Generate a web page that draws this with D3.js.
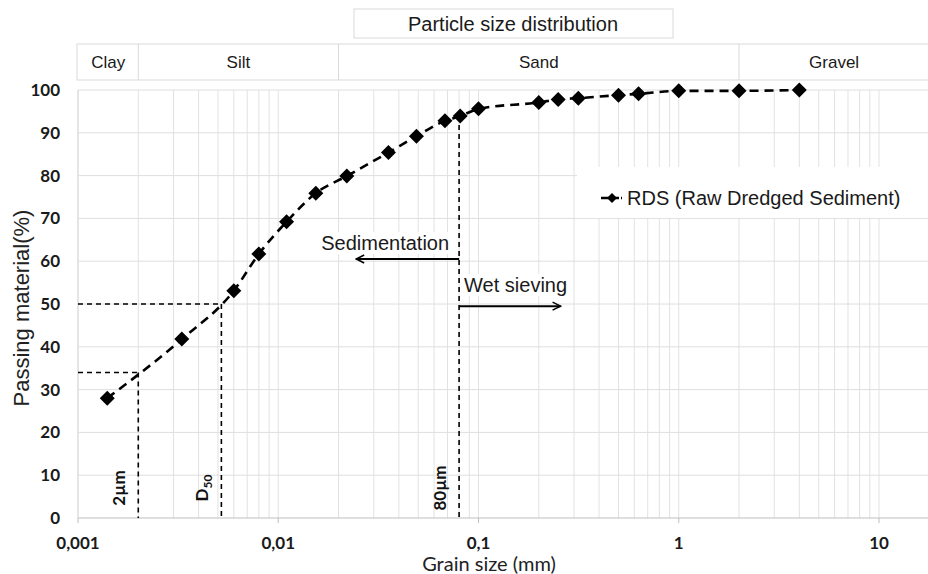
<!DOCTYPE html>
<html>
<head>
<meta charset="utf-8">
<script src="https://cdn.jsdelivr.net/npm/d3@7"></script>
<style>
  body { margin: 0; background: #fff; }
  svg { display: block; }
</style>
</head>
<body>
<script>
// data
const grainSize = [0.0014, 0.0033, 0.006, 0.008, 0.011, 0.0154, 0.022, 0.0355, 0.049, 0.068, 0.081, 0.1,
                   0.2, 0.25, 0.315, 0.5, 0.63, 1, 2, 4];
const passing = [28, 41.8, 53.1, 61.7, 69.2, 75.9, 79.9, 85.4, 89.2, 92.8, 93.9, 95.6,
                 97.1, 97.8, 98.1, 98.8, 99.1, 99.8, 99.8, 100];
const yTicks = [0, 10, 20, 30, 40, 50, 60, 70, 80, 90, 100];
const xTicks = [0.001, 0.01, 0.1, 1, 10];
const xTickLabels = ["0,001", "0,01", "0,1", "1", "10"];
const zoneNames = ["Clay", "Silt", "Sand", "Gravel"];
const zoneBounds = [0.001, 0.002, 0.02, 2, 17.8];
const refSize = [0.002, 0.0052, 0.08];
const refPassing = [34, 50, 93.9];
const refLabels = ["2µm", "D50", "80µm"];

const W = 928, H = 574;
const svg = d3.select("body").append("svg").attr("width", W).attr("height", H);

const x = d3.scaleLog().domain([0.001, 10]).range([78, 879]);
const y = d3.scaleLinear().domain([0, 100]).range([518, 90]);
const plotRight = W;

const ARIAL = "'Liberation Sans', Arial, sans-serif";
const CALIBRI = "Lato, 'Open Sans', sans-serif";

// arrow head
svg.append("defs").append("marker")
    .attr("id", "arrow")
    .attr("viewBox", "0 0 10 10")
    .attr("refX", 9).attr("refY", 5)
    .attr("markerWidth", 5).attr("markerHeight", 5)
    .attr("orient", "auto")
  .append("path")
    .attr("d", "M1,1 L9,5 L1,9")
    .attr("fill", "none")
    .attr("stroke", "#000")
    .attr("stroke-width", 1.6);

// vertical grid
let vgrid = [];
for (let e = -3; e < 1; e++)
    for (let m = 1; m < 10; m++) vgrid.push(m * Math.pow(10, e));
vgrid.push(10);

svg.append("g").selectAll("line").data(vgrid).enter().append("line")
    .attr("x1", d => x(d)).attr("x2", d => x(d))
    .attr("y1", y(100)).attr("y2", y(0))
    .attr("stroke", "#e2e2e2").attr("stroke-width", 1);

svg.append("g").selectAll("line").data(yTicks).enter().append("line")
    .attr("x1", x(0.001)).attr("x2", plotRight)
    .attr("y1", d => y(d)).attr("y2", d => y(d))
    .attr("stroke", d => d == 0 ? "#bfbfbf" : "#dedede").attr("stroke-width", 1);

svg.append("line")
    .attr("x1", x(0.001)).attr("x2", x(0.001))
    .attr("y1", y(100)).attr("y2", y(0))
    .attr("stroke", "#d9d9d9");

// x ticks
svg.append("g").selectAll("line").data(xTicks).enter().append("line")
    .attr("x1", d => x(d)).attr("x2", d => x(d))
    .attr("y1", y(0)).attr("y2", y(0) + 5)
    .attr("stroke", "#bfbfbf");

svg.append("g").selectAll("text").data(xTicks).enter().append("text")
    .attr("x", d => x(d)).attr("y", y(0) + 31)
    .attr("text-anchor", "middle")
    .style("font-family", CALIBRI).style("font-weight", "bold").style("font-size", "17px")
    .attr("fill", "#1a1a1a")
    .text((d, i) => xTickLabels[i]);

svg.append("g").selectAll("text").data(yTicks).enter().append("text")
    .attr("x", 60).attr("y", d => y(d)).attr("dy", "0.35em")
    .attr("text-anchor", "end")
    .style("font-family", CALIBRI).style("font-weight", "bold").style("font-size", "17px")
    .attr("fill", "#1a1a1a")
    .text(d => d);

// axis titles
svg.append("text")
    .attr("x", (x(0.001) + plotRight) / 2 - 14).attr("y", 571)
    .attr("text-anchor", "middle")
    .style("font-family", CALIBRI).style("font-size", "20px")
    .attr("fill", "#222")
    .text("Grain size (mm)");

svg.append("text")
    .attr("transform", "translate(29," + 308 + ") rotate(-90)")
    .attr("text-anchor", "middle")
    .style("font-family", ARIAL).style("font-size", "22px")
    .attr("fill", "#222")
    .text("Passing material(%)");

// header: title box and soil zones
let title = svg.append("g");
title.append("rect")
    .attr("x", 354).attr("y", 9).attr("width", 319).attr("height", 29)
    .attr("fill", "#fff").attr("stroke", "#d9d9d9");
title.append("text")
    .attr("x", 513).attr("y", 24).attr("dy", "0.35em")
    .attr("text-anchor", "middle")
    .style("font-family", ARIAL).style("font-size", "20px")
    .attr("fill", "#1a1a1a")
    .text("Particle size distribution");

let zones = svg.append("g");
zones.append("rect")
    .attr("x", x(0.001) - 1).attr("y", 44)
    .attr("width", x(zoneBounds[4]) - x(0.001) + 1).attr("height", 36)
    .attr("fill", "#fff").attr("stroke", "#d9d9d9");
zones.selectAll("line").data(zoneBounds.slice(1, 4)).enter().append("line")
    .attr("x1", d => x(d)).attr("x2", d => x(d))
    .attr("y1", 44).attr("y2", 80)
    .attr("stroke", "#d9d9d9");
zones.selectAll("text").data(zoneNames).enter().append("text")
    .attr("x", (d, i) => (x(zoneBounds[i]) + x(zoneBounds[i + 1])) / 2)
    .attr("y", 62).attr("dy", "0.35em")
    .attr("text-anchor", "middle")
    .style("font-family", ARIAL).style("font-size", "17px")
    .attr("fill", "#1a1a1a")
    .text(d => d);

// reference dashed lines
let refs = svg.append("g")
    .attr("stroke", "#000").attr("stroke-width", 1.6)
    .attr("stroke-dasharray", "5,4").attr("fill", "none");
refs.append("line")
    .attr("x1", x(0.001)).attr("x2", x(refSize[0]))
    .attr("y1", y(refPassing[0])).attr("y2", y(refPassing[0]));
refs.append("line")
    .attr("x1", x(0.001)).attr("x2", x(refSize[1]))
    .attr("y1", y(refPassing[1])).attr("y2", y(refPassing[1]));
refs.selectAll("line.v").data(refSize).enter().append("line")
    .attr("class", "v")
    .attr("x1", d => x(d)).attr("x2", d => x(d))
    .attr("y1", (d, i) => y(refPassing[i])).attr("y2", y(0));

let refText = svg.append("g").selectAll("text").data(refSize).enter().append("text")
    .attr("transform", (d, i) => "translate(" + (x(d) - 19) + "," + (y(0) - 30) + ") rotate(-90)")
    .attr("dy", "0.35em")
    .attr("text-anchor", "middle")
    .style("font-family", CALIBRI).style("font-weight", "bold").style("font-size", "17px")
    .attr("fill", "#111");
refText.each(function (d, i) {
    let t = d3.select(this);
    if (refLabels[i] == "D50") {
        t.append("tspan").text("D");
        t.append("tspan").attr("dy", 4).style("font-size", "12px").text("50");
    } else {
        t.text(refLabels[i]);
    }
});

// annotations: sedimentation / wet sieving
function labelWithBg(tx, ty, anchor, txt) {
    let g = svg.append("g");
    let r = g.append("rect").attr("fill", "#fff");
    let t = g.append("text")
        .attr("x", tx).attr("y", ty)
        .attr("text-anchor", anchor)
        .style("font-family", ARIAL).style("font-size", "20px")
        .attr("fill", "#1a1a1a")
        .text(txt);
    let b = t.node().getBBox();
    r.attr("x", b.x - 2).attr("y", b.y).attr("width", b.width + 4).attr("height", b.height);
}
labelWithBg(x(0.08) - 10, y(62.6), "end", "Sedimentation");
labelWithBg(x(0.08) + 5, y(52.8), "start", "Wet sieving");

svg.append("line")
    .attr("x1", x(0.08)).attr("x2", x(0.0245))
    .attr("y1", y(60.5)).attr("y2", y(60.5))
    .attr("stroke", "#000").attr("stroke-width", 2)
    .attr("marker-end", "url(#arrow)");
svg.append("line")
    .attr("x1", x(0.08)).attr("x2", x(0.257))
    .attr("y1", y(49.5)).attr("y2", y(49.5))
    .attr("stroke", "#000").attr("stroke-width", 2)
    .attr("marker-end", "url(#arrow)");

// legend
let legend = svg.append("g");
legend.append("rect")
    .attr("x", 577).attr("y", 167).attr("width", W - 577).attr("height", 51)
    .attr("fill", "#fff");
legend.append("line")
    .attr("x1", 601).attr("x2", 624).attr("y1", 198).attr("y2", 198)
    .attr("stroke", "#000").attr("stroke-width", 2.5)
    .attr("stroke-dasharray", "8,2,8,2,1,2");
legend.append("path")
    .attr("transform", "translate(612,198)")
    .attr("d", "M0,-5L5,0L0,5L-5,0Z")
    .attr("fill", "#000");
legend.append("text")
    .attr("x", 627).attr("y", 198).attr("dy", "0.35em")
    .style("font-family", ARIAL).style("font-size", "20px")
    .attr("fill", "#1a1a1a")
    .text("RDS (Raw Dredged Sediment)");

// series
let pts = grainSize.map((g, i) => [g, passing[i]]);
svg.append("path")
    .datum(pts)
    .attr("d", d3.line().x(d => x(d[0])).y(d => y(d[1])).curve(d3.curveMonotoneX))
    .attr("fill", "none")
    .attr("stroke", "#000").attr("stroke-width", 2.6)
    .attr("stroke-dasharray", "9,6");

svg.append("g").selectAll("path").data(pts).enter().append("path")
    .attr("transform", d => "translate(" + x(d[0]) + "," + y(d[1]) + ")")
    .attr("d", "M0,-7.5L7.5,0L0,7.5L-7.5,0Z")
    .attr("fill", "#000");
</script>
</body>
</html>
